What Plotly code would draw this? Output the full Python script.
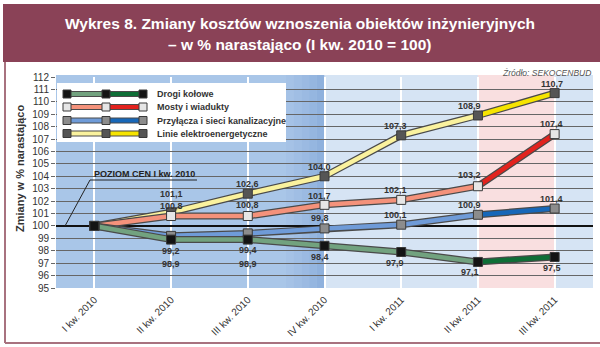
import plotly.graph_objects as go

# ---------------- data ----------------
categories = ["I kw. 2010", "II kw. 2010", "III kw. 2010", "IV kw. 2010",
              "I kw. 2011", "II kw. 2011", "III kw. 2011"]
drogi = [100, 98.9, 98.9, 98.4, 97.9, 97.1, 97.5]
mosty = [100, 100.8, 100.8, 101.7, 102.1, 103.2, 107.4]
przylacza = [100, 99.2, 99.4, 99.8, 100.1, 100.9, 101.4]
linie = [100, 101.1, 102.6, 104.0, 107.3, 108.9, 110.7]
series_names = ["Drogi kołowe", "Mosty i wiadukty",
                "Przyłącza i sieci kanalizacyjne", "Linie elektroenergetyczne"]
y_ticks = list(range(95, 113))

# ---------------- styles ----------------
W, H = 600, 347
L, R, T, B = 56, 593, 77, 288  # plot area in px


def px(x):
    return (x - L) / (R - L)


def py(y):
    return (B - y) / (B - T)


FONT = "Liberation Sans, Arial, sans-serif"
TXT = "#333333"
OUTLINE = "#4a4a4a"

styles = {
    "Drogi kołowe": dict(light="#72a27f", dark="#0e6e36", marker="#141414"),
    "Mosty i wiadukty": dict(light="#f4927b", dark="#e2231e", marker="#e6e6e6"),
    "Przyłącza i sieci kanalizacyjne": dict(light="#6f9bd8", dark="#1767b8", marker="#8c8c8c"),
    "Linie elektroenergetyczne": dict(light="#faf29e", dark="#f6e400", marker="#555555"),
}
data = {
    "Drogi kołowe": drogi,
    "Mosty i wiadukty": mosty,
    "Przyłącza i sieci kanalizacyjne": przylacza,
    "Linie elektroenergetyczne": linie,
}
# label pixel offsets (yshift) per point, index 0 has no label
label_yshift = {
    "Drogi kołowe": [None, -24, -24, -11, -11, -10, -11],
    "Mosty i wiadukty": [None, 10, 11, 9, 10, 11, 10],
    "Przyłącza i sieci kanalizacyjne": [None, -15, -17, 10, 10, 10, 10],
    "Linie elektroenergetyczne": [None, 18, 10, 9, 9, 9, 9],
}
label_xshift = [0, 0, 0, -5, -6, -8, -3]

xi = list(range(len(categories)))
fig = go.Figure()

draw_order = ["Linie elektroenergetyczne", "Mosty i wiadukty",
              "Przyłącza i sieci kanalizacyjne", "Drogi kołowe"]
for name in draw_order:
    vals = data[name]
    st = styles[name]
    fig.add_trace(go.Scatter(x=xi, y=vals, mode="lines", showlegend=False,
                             line=dict(color=OUTLINE, width=7), hoverinfo="skip"))
    fig.add_trace(go.Scatter(x=xi[:6], y=vals[:6], mode="lines", showlegend=False,
                             line=dict(color=st["light"], width=4.5), hoverinfo="skip"))
    fig.add_trace(go.Scatter(x=xi[5:], y=vals[5:], mode="lines", showlegend=False,
                             line=dict(color=st["dark"], width=4.5), hoverinfo="skip"))
for name in draw_order:
    vals = data[name]
    st = styles[name]
    fig.add_trace(go.Scatter(x=xi, y=vals, mode="markers", name=name, showlegend=False,
                             marker=dict(symbol="square", size=9, color=st["marker"],
                                         line=dict(color="#3a3a3a", width=1))))

# data labels
annotations = []
for name in series_names:
    vals = data[name]
    for i, v in enumerate(vals):
        ys = label_yshift[name][i]
        if ys is None:
            continue
        annotations.append(dict(
            x=i, y=v, xref="x", yref="y", text=f"{v:.1f}".replace(".", ","),
            showarrow=False, yshift=ys, xshift=label_xshift[i],
            xanchor="center", yanchor="middle",
            font=dict(family=FONT, size=9, color=TXT, weight="bold")))


def ann(x, y, text, size, color, xanchor="center", bold=False, angle=0):
    annotations.append(dict(xref="paper", yref="paper", x=px(x), y=py(y), text=text,
                            showarrow=False, xanchor=xanchor, yanchor="middle",
                            textangle=angle,
                            font=dict(family=FONT, size=size, color=color,
                                      weight="bold" if bold else "normal")))


shapes = []
# page frame / banner
shapes.append(dict(type="rect", xref="paper", yref="paper", x0=px(3), x1=px(600),
                   y0=py(4), y1=py(62), fillcolor="#8a4257", line=dict(width=0), layer="below"))
shapes.append(dict(type="line", xref="paper", yref="paper", x0=px(5), x1=px(5),
                   y0=py(62), y1=py(343), line=dict(color="#a8727f", width=2), layer="below"))
shapes.append(dict(type="line", xref="paper", yref="paper", x0=px(5), x1=px(600),
                   y0=py(343), y1=py(343), line=dict(color="#a8727f", width=2), layer="below"))


# backgrounds
def bg(x0, x1, color):
    shapes.append(dict(type="rect", xref="x", yref="paper", x0=x0, x1=x1, y0=0, y1=1.01,
                       fillcolor=color, line=dict(width=0), layer="below"))


bg(-0.5, 3, "#a9c6e8")
grad = ["#a5c2e6", "#a0bee4", "#9bbae2", "#95b6e0", "#8fb1dd"]
for k, c in enumerate(grad):
    bg(2.5 + k * 0.1, 2.6 + k * 0.1, c)
bg(3, 5, "#d6e4f4")
bg(5, 6, "#f9dfe0")
bg(6, 6.5, "#d6e4f4")

# 100 reference line
shapes.append(dict(type="line", xref="x", yref="y", x0=-0.5, x1=6.5, y0=100, y1=100,
                   line=dict(color="#111111", width=2), layer="between"))

# "POZIOM CEN" pointer
shapes.append(dict(type="line", xref="paper", yref="paper", x0=px(90), x1=px(197),
                   y0=py(180), y1=py(180), line=dict(color="#222222", width=1)))
shapes.append(dict(type="line", xref="paper", yref="paper", x0=px(90), x1=px(65),
                   y0=py(180), y1=py(226), line=dict(color="#222222", width=1)))
ann(144, 174, "POZIOM CEN I kw. 2010", 9, "#222222", bold=True)

# legend box
shapes.append(dict(type="rect", xref="paper", yref="paper", x0=px(57), x1=px(286),
                   y0=py(83), y1=py(142), fillcolor="white", line=dict(width=0)))
row_y = [94, 107, 120.5, 133.5]
for name, ry in zip(series_names, row_y):
    st = styles[name]
    shapes.append(dict(type="line", xref="paper", yref="paper", x0=px(66), x1=px(144),
                       y0=py(ry), y1=py(ry), line=dict(color=OUTLINE, width=6)))
    shapes.append(dict(type="line", xref="paper", yref="paper", x0=px(66), x1=px(106),
                       y0=py(ry), y1=py(ry), line=dict(color=st["light"], width=4)))
    shapes.append(dict(type="line", xref="paper", yref="paper", x0=px(106), x1=px(144),
                       y0=py(ry), y1=py(ry), line=dict(color=st["dark"], width=4)))
    for mx in (67, 106, 143):
        shapes.append(dict(type="rect", xref="paper", yref="paper",
                           x0=px(mx - 4), x1=px(mx + 4), y0=py(ry + 4), y1=py(ry - 4),
                           fillcolor=st["marker"], line=dict(color="#3a3a3a", width=1)))
    ann(155, ry, name, 9, TXT, xanchor="left", bold=True)

# titles and source
ann(300, 23, "Wykres 8. Zmiany kosztów wznoszenia obiektów inżynieryjnych", 15.5, "white", bold=True)
ann(300, 44, "– w % narastająco (I kw. 2010 = 100)", 15.5, "white", bold=True)
ann(593, 73, "<i>Źródło: SEKOCENBUD</i>", 8.5, "#555555", xanchor="right")
ann(20, 169, "Zmiany w % narastająco", 11, TXT, bold=True, angle=-90)

fig.update_layout(
    width=W, height=H,
    margin=dict(l=L, r=W - R, t=T, b=H - B, pad=0),
    paper_bgcolor="white", plot_bgcolor="#d6e4f4",
    showlegend=False,
    shapes=shapes, annotations=annotations,
    xaxis=dict(range=[-0.5, 6.5], tickmode="array", tickvals=xi, ticktext=categories,
               tickangle=-45, showgrid=True, gridcolor="white", gridwidth=2,
               zeroline=False, showline=False, ticks="", ticklabelstandoff=3,
               tickfont=dict(family=FONT, size=10, color=TXT)),
    yaxis=dict(range=[95, 112], tickmode="array", tickvals=y_ticks,
               showgrid=True, gridcolor="#666666", gridwidth=1, zeroline=False,
               ticks="outside", ticklen=4, tickcolor="#666666",
               tickfont=dict(family=FONT, size=10, color=TXT)),
)

fig.write_html("out.html")
